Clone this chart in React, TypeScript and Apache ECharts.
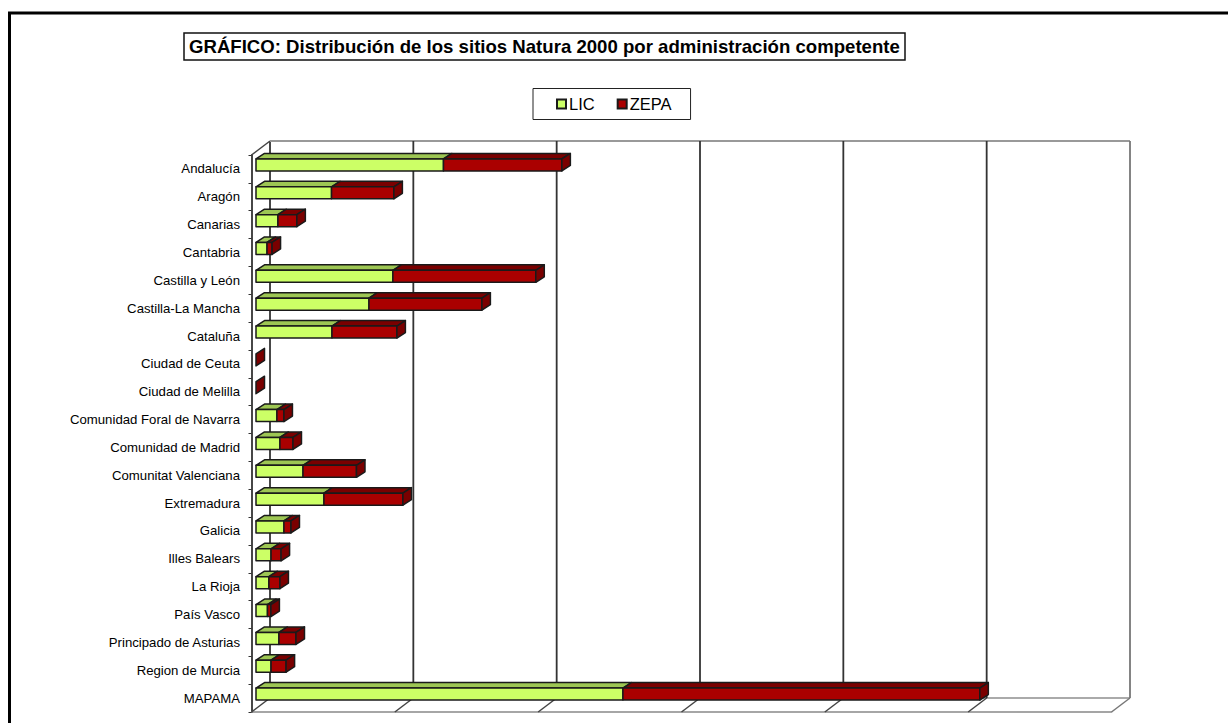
import React, { useEffect, useRef } from "react";
import * as echarts from "echarts";

const titleText = "GRÁFICO: Distribución de los sitios Natura 2000 por administración competente";
const categories = [
  "Andalucía", "Aragón", "Canarias", "Cantabria", "Castilla y León", "Castilla-La Mancha", "Cataluña",
  "Ciudad de Ceuta", "Ciudad de Melilla", "Comunidad Foral de Navarra", "Comunidad de Madrid",
  "Comunitat Valenciana", "Extremadura", "Galicia", "Illes Balears", "La Rioja", "País Vasco",
  "Principado de Asturias", "Region de Murcia", "MAPAMA",
];
const lic = [130.8, 52.7, 15.3, 7.7, 95.5, 78.8, 53, 0, 0, 14.6, 16.7, 32.8, 47.4, 19.5, 10.5, 9, 8, 16, 10.5, 256];
const zepa = [82.6, 43.5, 13.2, 3.5, 99.7, 78.8, 45.3, 0, 0, 4.9, 9.1, 37.3, 55.1, 4.9, 7, 7.7, 2.4, 11.9, 10.5, 249];
const ticks = [0, 100, 200, 300, 400, 500, 600];

const DX = 18.5, DY = -14;
const FX = 4.5, FY = -4, FH = 12, BX = 8.5, BY = -5.5;

function barItem(face: string, shade: string, side: boolean) {
  return (params: any, api: any) => {
    const i = api.value(0);
    const a = api.coord([api.value(1), i]);
    const b = api.coord([api.value(2), i]);
    const x0 = a[0] + FX, x1 = b[0] + FX;
    const yT = a[1] + FY - FH / 2, yB = a[1] + FY + FH / 2;
    const line = { stroke: "#1a1a1a", lineWidth: 1.5, lineJoin: "round" };
    const children: any[] = [];
    if (x1 > x0) {
      children.push({
        type: "polygon",
        shape: { points: [[x0, yT], [x0 + BX, yT + BY], [x1 + BX, yT + BY], [x1, yT]] },
        style: { fill: shade, ...line },
      });
      children.push({
        type: "rect",
        shape: { x: x0, y: yT, width: x1 - x0, height: yB - yT },
        style: { fill: face, ...line },
      });
    }
    if (side) {
      children.push({
        type: "polygon",
        shape: { points: [[x1, yT], [x1 + BX, yT + BY], [x1 + BX, yB + BY], [x1, yB]] },
        style: { fill: shade, ...line },
      });
    }
    return { type: "group", children };
  };
}

function wallItem(params: any, api: any) {
  const v = api.value(0);
  const sys = params.coordSys;
  const x = api.coord([v, 0])[0];
  const yTop = sys.y, yBot = sys.y + sys.height;
  const isLast = v === ticks[ticks.length - 1];
  const color = isLast ? "#777777" : "#333333";
  const children: any[] = [
    {
      type: "line",
      shape: { x1: x + DX, y1: yTop + DY, x2: x + DX, y2: yBot + DY },
      style: { stroke: color, lineWidth: 1.8 },
    },
    {
      type: "line",
      shape: { x1: x, y1: yBot, x2: x + DX, y2: yBot + DY },
      style: { stroke: isLast ? "#777777" : "#444444", lineWidth: 1.5 },
    },
  ];
  if (v === ticks[0]) {
    const x2 = api.coord([ticks[ticks.length - 1], 0])[0];
    children.push({
      type: "line",
      shape: { x1: x, y1: yTop, x2: x + DX, y2: yTop + DY },
      style: { stroke: "#444444", lineWidth: 1.5 },
    });
    children.push({
      type: "line",
      shape: { x1: x + DX, y1: yTop + DY, x2: x2 + DX, y2: yTop + DY },
      style: { stroke: "#999999", lineWidth: 2 },
    });
    children.push({
      type: "line",
      shape: { x1: x + DX, y1: yBot + DY, x2: x2 + DX, y2: yBot + DY },
      style: { stroke: "#aaaaaa", lineWidth: 2 },
    });
  }
  return { type: "group", children };
}

export default function App() {
  const ref = useRef<HTMLDivElement>(null);
  useEffect(() => {
    const chart = echarts.init(ref.current!, undefined, { renderer: "svg" });
    chart.setOption({
      animation: false,
      backgroundColor: "#ffffff",
      textStyle: { fontFamily: "Liberation Sans" },
      title: {
        text: titleText,
        left: 183.5,
        top: 33,
        padding: [4, 5.5],
        borderColor: "#111111",
        borderWidth: 1.5,
        textStyle: { fontFamily: "Liberation Sans", fontSize: 18.6, fontWeight: "bold", color: "#000000" },
      },
      legend: {
        data: ["LIC", "ZEPA"],
        left: 533,
        top: 88.5,
        padding: [7, 19, 7, 23],
        borderColor: "#222222",
        borderWidth: 1,
        icon: "rect",
        itemWidth: 9,
        itemHeight: 9,
        itemGap: 22,
        textStyle: { fontFamily: "Liberation Sans", fontSize: 16.5, color: "#000000", padding: [0, 0, 0, -2] },
      },
      grid: { left: 251.5, top: 155, width: 860, height: 557, containLabel: false },
      xAxis: {
        type: "value",
        min: 0,
        max: 600,
        interval: 100,
        axisLine: { show: true, lineStyle: { color: "#888888", width: 1.5 } },
        axisTick: { show: false },
        axisLabel: { show: false },
        splitLine: { show: false },
      },
      yAxis: {
        type: "category",
        inverse: true,
        data: categories,
        axisLine: { show: true, lineStyle: { color: "#333333", width: 1.8 } },
        axisTick: { show: true, length: 3, lineStyle: { color: "#333333" } },
        axisLabel: { margin: 11.5, color: "#000000", fontSize: 13.2, fontFamily: "Liberation Sans" },
        splitLine: { show: false },
      },
      series: [
        {
          type: "custom",
          name: "wall",
          silent: true,
          renderItem: wallItem,
          data: ticks.map((t) => [t]),
          encode: { x: 0 },
          z: 1,
        },
        {
          type: "custom",
          name: "LIC",
          renderItem: barItem("#CCFF66", "#9DC653", false),
          itemStyle: { color: "#CCFF66", borderColor: "#1a1a1a", borderWidth: 1.5 },
          data: lic.map((v, i) => [i, 0, v]),
          encode: { y: 0, x: [1, 2] },
          z: 3,
        },
        {
          type: "custom",
          name: "ZEPA",
          renderItem: barItem("#AA0000", "#7A0000", true),
          itemStyle: { color: "#AA0000", borderColor: "#1a1a1a", borderWidth: 1.5 },
          data: zepa.map((v, i) => [i, lic[i], lic[i] + v]),
          encode: { y: 0, x: [1, 2] },
          z: 3,
        },
      ],
      graphic: [
        {
          type: "polyline",
          silent: true,
          shape: { points: [[1240, 13], [9.5, 13], [9.5, 740]] },
          style: { stroke: "#000000", lineWidth: 3, fill: "none" },
        },
      ],
    });
    return () => chart.dispose();
  }, []);
  return <div ref={ref} style={{ position: "absolute", left: 0, top: 0, width: 1228, height: 723 }} />;
}
